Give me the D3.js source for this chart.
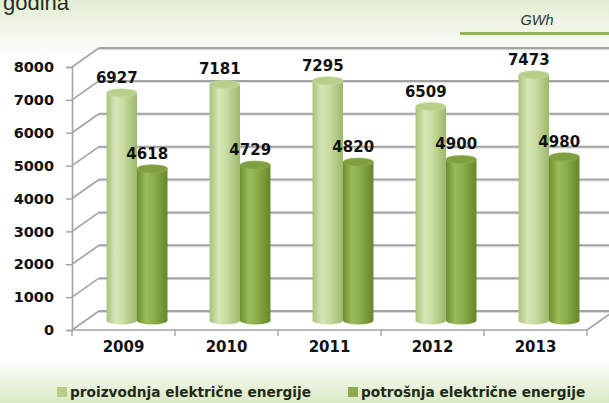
<!DOCTYPE html>
<html>
<head>
<meta charset="utf-8">
<script src="https://cdn.jsdelivr.net/npm/d3@7/dist/d3.min.js"></script>
<style>
  html, body { margin: 0; padding: 0; background: #fff; }
  svg { display: block; }
</style>
</head>
<body>
<svg id="chart" width="609" height="403"></svg>
<script>
// Electricity production vs. consumption, GWh
const years = ["2009", "2010", "2011", "2012", "2013"];
const production = [6927, 7181, 7295, 6509, 7473];
const consumption = [4618, 4729, 4820, 4900, 4980];
const seriesNames = ["proizvodnja električne energije", "potrošnja električne energije"];
const yTicks = [0, 1000, 2000, 3000, 4000, 5000, 6000, 7000, 8000];

const W = 609, H = 403;
const svg = d3.select("#chart");
const defs = svg.append("defs");

// background washes
const topGrad = defs.append("linearGradient").attr("id", "bgTop").attr("x1", 0).attr("y1", 0).attr("x2", 0).attr("y2", 1);
topGrad.append("stop").attr("offset", "0%").attr("stop-color", "#e2eed2");
topGrad.append("stop").attr("offset", "100%").attr("stop-color", "#ffffff");
const botGrad = defs.append("linearGradient").attr("id", "bgBot").attr("x1", 0).attr("y1", 0).attr("x2", 0).attr("y2", 1);
botGrad.append("stop").attr("offset", "0%").attr("stop-color", "#ffffff");
botGrad.append("stop").attr("offset", "100%").attr("stop-color", "#d9e9c5");
svg.append("rect").attr("x", 0).attr("y", 0).attr("width", W).attr("height", 58).attr("fill", "url(#bgTop)");
svg.append("rect").attr("x", 0).attr("y", 360).attr("width", W).attr("height", H - 360).attr("fill", "url(#bgBot)");

// cylinder shading
function cylGrad(id, stops) {
  const g = defs.append("linearGradient").attr("id", id).attr("x1", 0).attr("y1", 0).attr("x2", 1).attr("y2", 0);
  stops.forEach(([o, c]) => g.append("stop").attr("offset", o).attr("stop-color", c));
}
cylGrad("gProd", [["0%", "#a9c27a"], ["30%", "#d6e6b6"], ["55%", "#c9dca2"], ["100%", "#9db86a"]]);
cylGrad("gCons", [["0%", "#6e8f32"], ["30%", "#9abb58"], ["55%", "#8cae4a"], ["100%", "#658729"]]);
const topFill = ["#b7cf8a", "#7f9f40"];
const fills = ["url(#gProd)", "url(#gCons)"];
const legendFill = ["#b5cf88", "#8aac4b"];

// title fragment and unit
svg.append("text").attr("x", 3).attr("y", 10)
  .attr("font-family", "Liberation Sans, Arial, sans-serif").attr("font-size", 22)
  .attr("fill", "#2a2a2a").text("godina");
svg.append("text").attr("x", 537).attr("y", 25).attr("text-anchor", "middle")
  .attr("font-family", "Liberation Sans, Arial, sans-serif").attr("font-size", 14.5)
  .attr("font-style", "italic").attr("fill", "#333").text("GWh");
svg.append("line").attr("x1", 460).attr("x2", W).attr("y1", 33.5).attr("y2", 33.5)
  .attr("stroke", "#93b653").attr("stroke-width", 3);

// scales (front plane); depth offsets give the 3-D look
const x = d3.scaleBand().domain(years).range([72, 587]);
const y = d3.scaleLinear().domain([0, 8000]).range([330, 67]);
const depth = { dx: 27, dy: -19 };
const mid = { dx: depth.dx / 2, dy: depth.dy / 2 };
const inner = d3.scaleBand().domain([0, 1]).range([0, x.bandwidth()]).paddingInner(0).paddingOuter(0.69);

const grid = svg.append("g");
const gridColor = "#a3a3a3";
yTicks.forEach(v => {
  const yf = y(v), yb = y(v) + depth.dy;
  // back wall line
  grid.append("line").attr("x1", x.range()[0] + depth.dx).attr("x2", W)
    .attr("y1", yb + 1.5).attr("y2", yb + 1.5).attr("stroke", "#dadada").attr("stroke-width", 1);
  grid.append("line").attr("x1", x.range()[0] + depth.dx).attr("x2", W)
    .attr("y1", yb).attr("y2", yb).attr("stroke", gridColor).attr("stroke-width", 2);
  // side wall line
  grid.append("line").attr("x1", x.range()[0]).attr("y1", yf)
    .attr("x2", x.range()[0] + depth.dx).attr("y2", yb).attr("stroke", gridColor).attr("stroke-width", 1.6);
});
// floor edges
grid.append("line").attr("x1", 72).attr("x2", 587).attr("y1", y(0)).attr("y2", y(0))
  .attr("stroke", gridColor).attr("stroke-width", 1.6);
grid.append("line").attr("x1", 587).attr("y1", y(0)).attr("x2", 587 + depth.dx).attr("y2", y(0) + depth.dy)
  .attr("stroke", gridColor).attr("stroke-width", 1.6);

// value axis
const yAxis = d3.axisLeft(y).tickValues(yTicks).tickFormat(d3.format("d")).tickSize(6).tickPadding(12);
const ya = svg.append("g").attr("transform", "translate(72,0)").call(yAxis);
ya.select(".domain").attr("stroke", gridColor).attr("stroke-width", 1.6);
ya.selectAll(".tick line").attr("stroke", gridColor).attr("stroke-width", 1.4);
ya.selectAll(".tick text").attr("font-family", "DejaVu Sans, sans-serif").attr("font-weight", "bold")
  .attr("font-size", 14.5).attr("fill", "#111");

// category axis
const xAxis = d3.axisBottom(x).tickSize(0).tickPadding(11);
const xa = svg.append("g").attr("transform", `translate(0,${y(0)})`).call(xAxis);
xa.select(".domain").remove();
xa.selectAll(".tick text").attr("font-family", "DejaVu Sans, sans-serif").attr("font-weight", "bold")
  .attr("font-size", 15).attr("fill", "#111");
const boundaries = years.map(d => x(d)).concat([x(years[years.length - 1]) + x.bandwidth()]);
svg.append("g").selectAll("line").data(boundaries).join("line")
  .attr("x1", d => d).attr("x2", d => d).attr("y1", y(0)).attr("y2", y(0) + 6)
  .attr("stroke", gridColor).attr("stroke-width", 1.4);

// cylinders
const ry = 4;
const barData = [];
years.forEach((yr, i) => {
  [production[i], consumption[i]].forEach((v, s) => {
    barData.push({ yr, s, v });
  });
});
const bars = svg.append("g").selectAll("g").data(barData).join("g");
bars.each(function (d) {
  const g = d3.select(this);
  const x0 = x(d.yr) + mid.dx + inner(d.s);
  const w = inner.bandwidth();
  const cx = x0 + w / 2;
  const yTop = y(d.v) + mid.dy;
  const yBot = y(0) + mid.dy;
  g.append("ellipse").attr("cx", cx).attr("cy", yBot).attr("rx", w / 2).attr("ry", ry).attr("fill", fills[d.s]);
  g.append("rect").attr("x", x0).attr("y", yTop).attr("width", w).attr("height", yBot - yTop).attr("fill", fills[d.s]);
  g.append("ellipse").attr("cx", cx).attr("cy", yTop).attr("rx", w / 2).attr("ry", ry).attr("fill", topFill[d.s])
    .attr("stroke", d.s === 0 ? "#c9dba6" : "#8fae52").attr("stroke-width", 0.6);
  d.cx = cx; d.yTop = yTop;
});

// value labels
svg.append("g").selectAll("text").data(barData).join("text")
  .attr("x", d => d.cx - 5).attr("y", d => d.yTop - 10)
  .attr("text-anchor", "middle")
  .attr("font-family", "DejaVu Sans, sans-serif").attr("font-weight", "bold")
  .attr("font-size", 15).attr("fill", "#111")
  .text(d => d.v);

// legend
const legendX = [57, 348];
const lg = svg.append("g").selectAll("g").data(seriesNames).join("g")
  .attr("transform", (d, i) => `translate(${legendX[i]},387)`);
lg.append("rect").attr("width", 10).attr("height", 10).attr("fill", (d, i) => legendFill[i]);
lg.append("text").attr("x", 13).attr("y", 10)
  .attr("font-family", "DejaVu Sans, sans-serif").attr("font-weight", "bold")
  .attr("font-size", 13.7).attr("fill", "#1f2a14")
  .text(d => d);
</script>
</body>
</html>
